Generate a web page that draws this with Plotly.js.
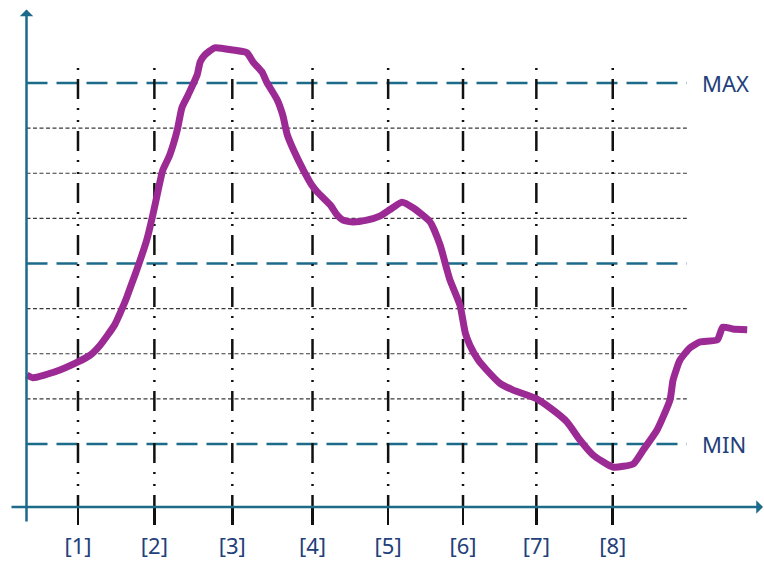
<!DOCTYPE html>
<html>
<head>
<meta charset="utf-8">
<script src="https://cdn.plot.ly/plotly-3.0.1.min.js"></script>
<style>html,body{margin:0;padding:0;background:#fff;}#chart{width:764px;height:561px;}</style>
</head>
<body>
<div id="chart"></div>
<script>
// ---- data ----
const tickLabels = ['[1]', '[2]', '[3]', '[4]', '[5]', '[6]', '[7]', '[8]'];
const tickPositions = [1.0, 2.0, 3.02, 4.07, 5.06, 6.04, 7.0, 8.0];
const curveX = [0.33, 0.41, 0.70, 1.00, 1.16, 1.29, 1.48, 1.58, 1.64, 1.72, 1.77, 1.90, 1.98, 2.05, 2.11, 2.20, 2.30, 2.36, 2.44, 2.56, 2.60, 2.66, 2.79, 3.03, 3.21, 3.29, 3.41, 3.47, 3.61, 3.68, 3.74, 3.82, 3.95, 4.06, 4.13, 4.30, 4.39, 4.47, 4.60, 4.78, 4.95, 5.08, 5.24, 5.39, 5.61, 5.74, 5.83, 5.87, 6.00, 6.07, 6.13, 6.24, 6.35, 6.52, 6.69, 6.98, 7.18, 7.40, 7.57, 7.74, 8.00, 8.27, 8.40, 8.58, 8.75, 8.79, 8.88, 9.01, 9.14, 9.37, 9.44, 9.57, 9.76];
const curveY = [2.53, 2.47, 2.60, 2.82, 2.97, 3.19, 3.64, 4.01, 4.26, 4.63, 4.86, 5.52, 6.08, 6.63, 7.07, 7.40, 7.96, 8.45, 8.73, 9.18, 9.47, 9.62, 9.78, 9.73, 9.67, 9.47, 9.24, 9.02, 8.62, 8.29, 7.85, 7.52, 7.07, 6.74, 6.59, 6.30, 6.08, 5.96, 5.92, 5.96, 6.05, 6.19, 6.36, 6.23, 5.92, 5.41, 4.86, 4.63, 4.08, 3.46, 3.19, 2.86, 2.64, 2.35, 2.20, 2.02, 1.80, 1.49, 1.09, 0.76, 0.49, 0.56, 0.87, 1.31, 1.98, 2.42, 2.86, 3.13, 3.26, 3.31, 3.59, 3.55, 3.53];
const dashedLevels = [1, 5, 9];          // MIN, middle, MAX
const dottedLevels = [2, 3, 4, 6, 7, 8];
const levelLabels = [{level: 9, text: 'MAX'}, {level: 1, text: 'MIN'}];

// ---- frame (axis extents) ----
const xRange = [0.11, 9.98];
const yRange = [-0.396, 10.64];
const yAxisX = 0.326;
const yAxisBottom = -0.75;
const yAxisTop = 10.63;
const xAxisLeft = 0.11;
const xAxisRight = 9.967;
const gridEndX = 8.97;
const vLineTop = 9.33;

const teal = '#1d6b8a';
const navy = '#22407a';
const purple = '#9c2a94';
const font = 'Noto Sans, Open Sans, sans-serif';

const shapes = [];
dashedLevels.forEach(v => shapes.push({
  type: 'line', layer: 'below', xref: 'x', yref: 'y',
  x0: yAxisX, x1: gridEndX, y0: v, y1: v,
  line: {color: teal, width: 2.5, dash: '21px,9px'}
}));
dottedLevels.forEach(v => shapes.push({
  type: 'line', layer: 'below', xref: 'x', yref: 'y',
  x0: yAxisX, x1: gridEndX, y0: v, y1: v,
  line: {color: '#3a3a3a', width: 1.2, dash: '4px,2.5px'}
}));
tickPositions.forEach(p => shapes.push({
  type: 'line', layer: 'below', xref: 'x', yref: 'y',
  x0: p, x1: p, y0: vLineTop, y1: yRange[0],
  line: {color: '#111', width: 2.5, dash: '2px,9px,20px,9px,2px,10px'}
}));

const annotations = [
  {x: yAxisX, y: yAxisTop, ax: yAxisX, ay: yAxisBottom, axref: 'x', ayref: 'y', xref: 'x', yref: 'y',
   text: '', showarrow: true, arrowhead: 1, arrowsize: 0.9, arrowwidth: 2.5, arrowcolor: teal, standoff: 0, startstandoff: 0},
  {x: xAxisRight, y: yRange[0], ax: xAxisLeft, ay: yRange[0], axref: 'x', ayref: 'y', xref: 'x', yref: 'y',
   text: '', showarrow: true, arrowhead: 1, arrowsize: 0.9, arrowwidth: 2.5, arrowcolor: teal, standoff: 0, startstandoff: 0}
];
levelLabels.forEach(l => annotations.push({
  x: gridEndX, y: l.level, xref: 'x', yref: 'y', xanchor: 'left', yanchor: 'middle',
  xshift: 13, text: l.text, showarrow: false,
  font: {family: font, size: 22, color: navy}
}));

const trace = {
  x: curveX, y: curveY, type: 'scatter', mode: 'lines',
  line: {color: purple, width: 7, shape: 'spline', smoothing: 0.5},
  hoverinfo: 'skip'
};

const layout = {
  width: 764, height: 561,
  margin: {l: 10, r: 0, t: 9, b: 54, pad: 0},
  paper_bgcolor: '#fff', plot_bgcolor: '#fff',
  showlegend: false,
  xaxis: {
    range: xRange, showgrid: false, zeroline: false, showline: false,
    tickmode: 'array', tickvals: tickPositions, ticktext: tickLabels,
    ticks: 'outside', ticklen: 17, tickwidth: 2.5, tickcolor: '#111',
    ticklabelstandoff: 3,
    tickfont: {family: font, size: 22, color: navy},
    fixedrange: true
  },
  yaxis: {
    range: yRange, showgrid: false, zeroline: false, showline: false,
    showticklabels: false, ticks: '', fixedrange: true
  },
  shapes: shapes,
  annotations: annotations
};

Plotly.newPlot('chart', [trace], layout, {displayModeBar: false, staticPlot: true});
</script>
</body>
</html>
